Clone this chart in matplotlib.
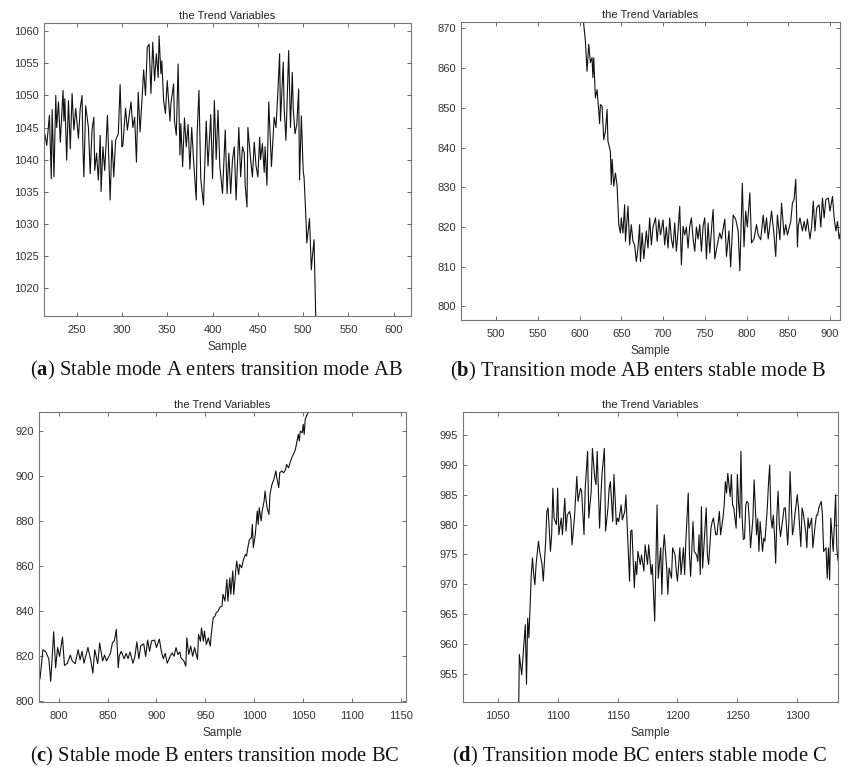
import matplotlib
matplotlib.use("Agg")
import matplotlib.pyplot as plt
import numpy as np

plt.rcParams["font.family"] = ["Liberation Sans", "DejaVu Sans"]
plt.rcParams["mathtext.fontset"] = "custom"
plt.rcParams["mathtext.rm"] = "Liberation Serif"
plt.rcParams["mathtext.bf"] = "Liberation Serif:bold"

# trend variable, stable mode A -> transition AB
ab_sample = [214, 215, 217, 220, 222, 223, 225, 227, 228, 230, 232, 235, 236, 237, 239, 241, 243, 245,
             247, 249, 252, 254, 256, 257, 258, 260, 263, 265, 267, 269, 270, 272, 274, 276, 277, 279,
             281, 284, 287, 289, 291, 293, 296, 298, 300, 301, 304, 306, 310, 312, 314, 316, 318, 320,
             322, 324, 326, 328, 330, 332, 334, 336, 338, 340, 341, 343, 344, 346, 348, 350, 353, 354,
             357, 358, 360, 362, 364, 365, 367, 369, 371, 373, 375, 377, 379, 382, 383, 385, 387, 390,
             393, 395, 398, 400, 402, 404, 406, 408, 411, 414, 416, 418, 420, 422, 424, 426, 429, 431,
             433, 435, 436, 438, 439, 442, 444, 446, 448, 450, 452, 453, 455, 457, 458, 460, 462, 465,
             468, 470, 472, 474, 475, 478, 479, 481, 484, 486, 488, 489, 491, 493, 495, 496, 498, 500,
             501, 503, 504, 507, 509, 510, 512, 515]
ab_value = [1043.5, 1044, 1042.2, 1046.9, 1037, 1047.8, 1037.3, 1050, 1045, 1049, 1042.7, 1050.8, 1046,
            1049.5, 1039.9, 1049.2, 1041.7, 1050.3, 1044.6, 1048, 1043.3, 1048, 1050, 1041.5, 1037.3,
            1048.4, 1045, 1037.8, 1044.6, 1046.6, 1038.3, 1041, 1036.8, 1043.8, 1035, 1042, 1038.3,
            1046.9, 1033.7, 1043, 1037.3, 1043, 1044, 1051.7, 1042, 1042.2, 1048, 1044.6, 1049, 1045,
            1046.6, 1039.6, 1050.5, 1044.3, 1049, 1054, 1050, 1057.5, 1058, 1050.3, 1058.3, 1052.3,
            1056.5, 1052.8, 1059.3, 1053.4, 1055.4, 1049.2, 1047.2, 1052.3, 1046, 1048.7, 1051.8, 1046,
            1043.8, 1054.9, 1040.7, 1045.6, 1038.9, 1046.5, 1042, 1045.5, 1038.5, 1045, 1040, 1033.7,
            1044, 1050.8, 1037, 1032.9, 1046, 1039, 1047, 1037, 1049.2, 1040, 1047.7, 1039, 1034.7,
            1044.6, 1034.7, 1041, 1034.7, 1040, 1042, 1033.7, 1045, 1037.3, 1042, 1041, 1036, 1032.6,
            1045, 1040, 1037.3, 1042.7, 1039, 1037.3, 1043.5, 1040, 1042.5, 1038, 1042, 1036, 1049,
            1038.9, 1046.6, 1045, 1050.3, 1056.5, 1046, 1055.2, 1048, 1043, 1057, 1045, 1053.6, 1048,
            1044, 1045.5, 1051, 1036.8, 1046.8, 1038.3, 1037.2, 1031, 1027, 1030.8, 1022.8, 1024.6,
            1027.5, 1008]

# transition AB -> stable B -> transition BC
bc_sample = [602, 605, 607, 609, 611, 613, 615, 616, 617, 619, 621, 623, 624, 625, 627, 629, 631, 633,
             634, 637, 638, 639, 641, 643, 645, 647, 649, 650, 652, 654, 655, 658, 660, 662, 664, 666,
             668, 670, 672, 673, 675, 677, 680, 682, 684, 686, 688, 691, 693, 695, 697, 700, 702, 704,
             706, 708, 710, 712, 714, 716, 718, 720, 722, 724, 726, 728, 730, 732, 734, 736, 738, 740,
             742, 744, 746, 748, 750, 752, 754, 756, 759, 760, 762, 765, 768, 770, 774, 776, 779, 781,
             784, 787, 790, 792, 794, 795, 797, 799, 801, 804, 806, 809, 812, 814, 817, 820, 822, 824,
             826, 830, 833, 835, 837, 840, 842, 845, 847, 849, 853, 855, 857, 859, 861, 862, 864, 867,
             869, 871, 873, 876, 878, 880, 882, 884, 887, 889, 891, 893, 895, 898, 900, 903, 905, 907,
             909, 911, 914, 916, 918, 920, 922, 924, 925, 928, 930, 931, 933, 935, 937, 939, 940, 942,
             943, 945, 946, 948, 949, 951, 953, 955, 956, 958, 960, 961, 963, 965, 967, 968, 970, 972,
             973, 975, 976, 978, 979, 981, 982, 984, 985, 987, 989, 991, 992, 994, 995, 997, 998, 999,
             1001, 1003, 1004, 1005, 1007, 1008, 1010, 1011, 1013, 1015, 1016, 1018, 1020, 1022, 1023,
             1025, 1026, 1028, 1030, 1032, 1033, 1035, 1037, 1039, 1040, 1042, 1043, 1045, 1046, 1047,
             1049, 1050, 1051, 1052, 1054, 1056, 1058]
bc_value = [876, 871, 866.8, 859.2, 866, 861.4, 862.6, 857.6, 862.6, 852.5, 854.6, 849.2, 846, 850.8,
            850.4, 842, 844.1, 849.6, 841.6, 839, 830.7, 837, 830.3, 833.6, 830.3, 820.6, 818.5, 822.3,
            818.5, 825.6, 816.4, 825.2, 815.5, 820.6, 816.4, 815.5, 811.3, 814.7, 820.6, 811.3, 818.5,
            812, 819, 814.7, 822.3, 815.5, 820, 822.3, 816.4, 821.8, 818, 821.8, 815.5, 820, 814.7,
            822.3, 817, 814.7, 821, 813.9, 819, 825.2, 810.5, 820.2, 818, 820, 814.7, 820.2, 822.3,
            817, 813.9, 820, 817, 820.6, 813.9, 820.2, 822.3, 812, 821, 813.5, 822, 824.4, 812, 815.5,
            818.5, 817, 822, 812.6, 819, 810, 823, 822, 819, 809, 824, 831, 815, 824, 820, 828.6, 816,
            817, 820.6, 818, 816.8, 823, 818.5, 822.3, 817, 824, 818, 812.6, 823, 816.8, 826, 818,
            820.6, 818, 821.4, 826, 827, 832, 815, 820.2, 822.3, 819, 821.4, 819, 822, 817, 820, 826.5,
            819, 824.8, 825.6, 820, 827.3, 822.3, 826.9, 827.3, 824, 827.7, 822.3, 819, 821.4, 817,
            820.1, 821.6, 820.1, 823.9, 820.9, 822, 819.4, 818, 815.7, 828.3, 820.9, 824.6, 820.1,
            823.9, 822, 818.7, 829.8, 826.8, 832.7, 826.8, 831.3, 825.3, 828.3, 824.6, 829.8, 837.2,
            838, 839.4, 840.1, 842, 842.4, 847.6, 844.6, 854.2, 844.6, 855, 847.6, 858, 847.6, 858,
            862.4, 856.4, 860.9, 859.4, 863.1, 865.3, 864.6, 869.8, 872, 872.7, 878.7, 868.3, 874.2,
            884.6, 878.7, 886.1, 880.2, 884.6, 889, 893.5, 886.1, 883.1, 892, 896.4, 898.7, 902.4,
            899.4, 895, 901.6, 902.4, 901.6, 903.1, 905.3, 903.8, 906.8, 909, 909.8, 912, 914.2, 918.7,
            915.7, 920.1, 919.4, 923.1, 918.7, 925.3, 927.5, 929, 933]

# transition BC -> stable C
c_sample = [1067, 1068, 1070, 1072, 1073, 1074, 1075, 1076, 1078, 1079, 1080, 1081, 1082, 1084, 1085,
            1087, 1088, 1090, 1091, 1092, 1094, 1095, 1096, 1097, 1099, 1100, 1101, 1103, 1104, 1106,
            1107, 1108, 1110, 1111, 1112, 1114, 1116, 1117, 1119, 1120, 1122, 1123, 1125, 1126, 1128,
            1129, 1131, 1132, 1133, 1135, 1136, 1137, 1139, 1140, 1142, 1143, 1144, 1146, 1147, 1149,
            1150, 1151, 1153, 1154, 1156, 1157, 1158, 1160, 1161, 1162, 1164, 1165, 1166, 1167, 1169,
            1170, 1172, 1173, 1175, 1176, 1178, 1179, 1181, 1183, 1184, 1186, 1187, 1188, 1189, 1191,
            1192, 1193, 1195, 1196, 1198, 1199, 1200, 1202, 1203, 1205, 1206, 1207, 1209, 1210, 1211,
            1213, 1214, 1216, 1217, 1218, 1219, 1220, 1221, 1222, 1224, 1225, 1226, 1228, 1229, 1230,
            1232, 1233, 1235, 1236, 1238, 1239, 1240, 1241, 1242, 1244, 1245, 1246, 1247, 1249, 1250,
            1251, 1252, 1253, 1254, 1255, 1256, 1257, 1258, 1259, 1260, 1261, 1263, 1264, 1265, 1266,
            1267, 1268, 1269, 1271, 1272, 1273, 1275, 1276, 1277, 1278, 1279, 1280, 1281, 1282, 1283,
            1284, 1285, 1286, 1288, 1289, 1290, 1292, 1293, 1294, 1296, 1297, 1298, 1300, 1301, 1303,
            1304, 1305, 1307, 1308, 1309, 1310, 1312, 1313, 1315, 1316, 1317, 1318, 1320, 1321, 1322,
            1324, 1325, 1326, 1327, 1328, 1330, 1331, 1332, 1333, 1334]
c_value = [940, 958.2, 954.8, 960.4, 963.2, 953.2, 964.3, 961, 971.6, 974.4, 971.6, 969.9, 973.3, 977.2,
           975.5, 973.3, 970.5, 977.2, 982.2, 982.8, 975.5, 978.3, 986.1, 981.1, 980, 986.1, 978.3,
           981.1, 978.3, 984.4, 978.9, 981.6, 982.2, 981.1, 976.6, 981.1, 988.1, 983.9, 986.1, 985.6,
           978.3, 986.1, 992.3, 981.1, 985.6, 992.8, 987.8, 986.7, 992.3, 979.4, 984.4, 988.4, 992.8,
           978.9, 982.8, 986.1, 987.2, 980.5, 988.4, 980, 981.1, 980.5, 983.3, 980.8, 982.2, 985, 980,
           970.5, 978.9, 979.1, 969.4, 973.8, 971.6, 975.5, 973.3, 974.9, 972.2, 976.6, 973.3, 976.6,
           971.6, 973.3, 963.8, 983.3, 971, 976.1, 968.3, 975.5, 978.3, 972.7, 968.3, 972.7, 971, 976.1,
           974.9, 972.2, 970.5, 976.1, 971.6, 976.1, 971.6, 977.2, 985.3, 974.9, 971.3, 980.5, 975.5,
           974.9, 973.8, 978.3, 971.6, 983, 972.7, 976.1, 982.8, 974.9, 973.3, 979.4, 980.5, 981.1,
           978.3, 978.3, 982.2, 978.3, 981.1, 983.3, 987.2, 985.3, 988.6, 984.7, 988.4, 983.3, 982.8,
           979.4, 988.4, 983.6, 981.1, 992.3, 981.1, 977.5, 977.7, 983.3, 983.9, 983.6, 980.5, 976.1,
           981.1, 987.5, 982.8, 978.3, 981, 975.5, 980.5, 975.5, 977.7, 977.2, 982.8, 987, 990, 981.1,
           979.4, 981.6, 978.3, 973.5, 981.6, 985.6, 980, 978, 981.1, 982.8, 982.8, 976.6, 980.5, 988.9,
           978.3, 979.4, 981.6, 985, 982.8, 976.3, 982.8, 981.9, 978.9, 976.1, 981.1, 979.4, 981.1,
           976.1, 980, 981.6, 981.6, 982.8, 983.9, 981.6, 975.5, 976.1, 971, 976.1, 970.7, 981.1,
           975.5, 980, 985, 976.1, 974]

captions = ["Stable mode A enters transition mode AB",
            "Transition mode AB enters stable mode B",
            "Stable mode B enters transition mode BC",
            "Transition mode BC enters stable mode C"]
letters = ["a", "b", "c", "d"]

W, H = 851, 767


def px_box(left, top, right, bottom):
    return [left / W, 1 - bottom / H, (right - left) / W, (bottom - top) / H]


panels = [
    dict(box=px_box(44, 23, 411, 316), x=ab_sample, y=ab_value, xlim=(214, 619), ylim=(1015.6, 1061.3),
         xticks=np.arange(250, 601, 50), yticks=np.arange(1020, 1061, 5), cap=(216, 370)),
    dict(box=px_box(461, 22, 840, 320), x=bc_sample, y=bc_value, xlim=(458, 912), ylim=(796.6, 871.6),
         xticks=np.arange(500, 901, 50), yticks=np.arange(800, 871, 10), cap=(638, 371)),
    dict(box=px_box(39, 412, 406, 701.5), x=bc_sample, y=bc_value, xlim=(780, 1155), ylim=(800, 928.6),
         xticks=np.arange(800, 1151, 50), yticks=np.arange(800, 921, 20), cap=(215, 756)),
    dict(box=px_box(463, 412, 838, 701.5), x=c_sample, y=c_value, xlim=(1021, 1334), ylim=(950.3, 998.9),
         xticks=np.arange(1050, 1301, 50), yticks=np.arange(955, 996, 5), cap=(639, 756)),
]

fig = plt.figure(figsize=(W / 100, H / 100), dpi=100)

for p, letter, caption in zip(panels, letters, captions):
    ax = fig.add_axes(p["box"])
    ax.plot(p["x"], p["y"], color="#111111", linewidth=0.8)
    ax.set_xlim(*p["xlim"])
    ax.set_ylim(*p["ylim"])
    ax.set_xticks(p["xticks"])
    ax.set_yticks(p["yticks"])
    ax.tick_params(axis="x", pad=6.5)
    ax.tick_params(direction="in", top=True, right=True, length=3, width=0.6,
                   labelsize=8, colors="#555555", labelcolor="#333333")
    for sp in ax.spines.values():
        sp.set_color("#777777")
        sp.set_linewidth(0.8)
    ax.set_title("the Trend Variables", fontsize=8, pad=3, color="#222222")
    ax.set_xlabel("Sample", fontsize=8.5, labelpad=4.5, color="#333333")
    fig.text(p["cap"][0] / W, 1 - p["cap"][1] / H,
             r"($\mathbf{" + letter + r"}$) " + caption,
             family="Liberation Serif", fontsize=14.8, ha="center", va="center", color="#111111")

fig.savefig("out.png", dpi=100)
